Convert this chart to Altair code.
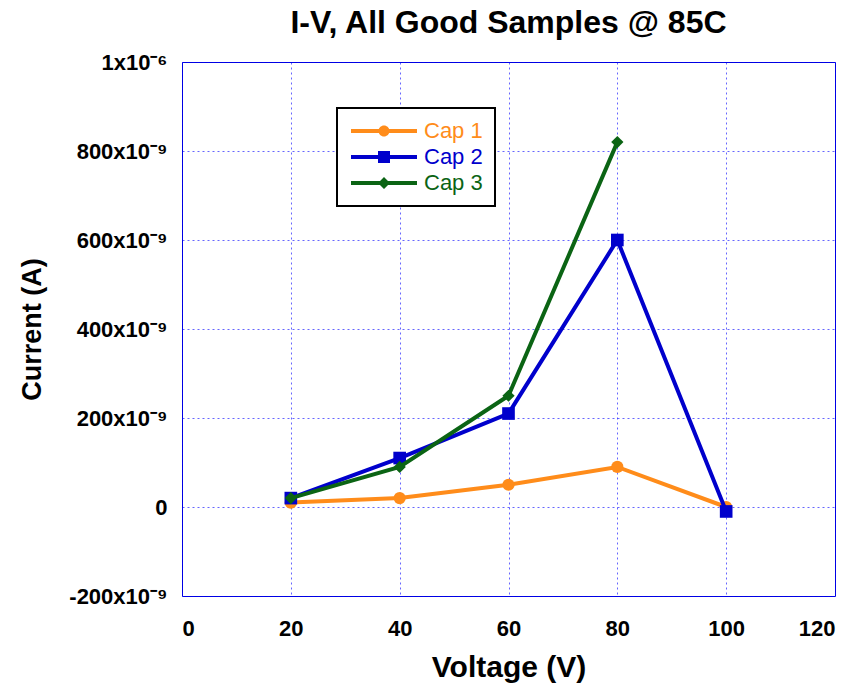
import altair as alt
import pandas as pd

# ---- data ----
voltage = [20, 40, 60, 80, 100]
cap1 = [10e-9, 20e-9, 50e-9, 90e-9, 0.0]
cap2 = [20e-9, 110e-9, 210e-9, 600e-9, -10e-9]
cap3 = [20e-9, 90e-9, 250e-9, 820e-9, None]
series = ["Cap 1", "Cap 2", "Cap 3"]

x_ticks = [0, 20, 40, 60, 80, 100, 120]
y_ticks = [-200e-9, 0.0, 200e-9, 400e-9, 600e-9, 800e-9, 1e-6]
y_labels = ["-200x10\u207b\u2079", "0", "200x10\u207b\u2079", "400x10\u207b\u2079",
            "600x10\u207b\u2079", "800x10\u207b\u2079", "1x10\u207b\u2076"]

# ---- styles ----
colors = ["#ff8c1a", "#0000cc", "#0b6414"]
shapes = ["circle", "square", "diamond"]
point_sizes = [150, 160, 150]
legend_paths = [
    "M-6.6,-0.4H6.6V0.4H-6.6Z M1.1,0A1.1,1.1 0 1,1 -1.1,0A1.1,1.1 0 1,1 1.1,0Z",
    "M-6.6,-0.4H6.6V0.4H-6.6Z M-1.2,-1.2H1.2V1.2H-1.2Z",
    "M-6.6,-0.4H6.6V0.4H-6.6Z M0,-1.2L1.2,0L0,1.2L-1.2,0Z",
]
FONT = "Liberation Sans"

rows = []
for s, vals in zip(series, [cap1, cap2, cap3]):
    for v, c in zip(voltage, vals):
        if c is not None:
            rows.append({"voltage": v, "current": c, "series": s})
df = pd.DataFrame(rows)

# y label expression built from the tick arrays
expr = "''"
for val, lab in reversed(list(zip(y_ticks, y_labels))):
    expr = f"abs(datum.value - ({val!r})) < 1e-12 ? '{lab}' : ({expr})"

label_color_expr = "'black'"
for s, c in reversed(list(zip(series, colors))):
    label_color_expr = f"datum.label == '{s}' ? '{c}' : ({label_color_expr})"

x_enc = alt.X("voltage:Q",
              scale=alt.Scale(domain=[0, 120], nice=False, zero=False),
              axis=alt.Axis(values=x_ticks, title="Voltage (V)", labelPadding=22,
                            titleY=56, format="d"))
y_enc = alt.Y("current:Q",
              scale=alt.Scale(domain=[-200e-9, 1e-6], nice=False, zero=False),
              axis=alt.Axis(values=y_ticks, labelExpr=expr, title="Current (A)",
                            labelPadding=15, titleX=-136, titleFontSize=27))
color_scale = alt.Scale(domain=series, range=colors)

base = alt.Chart(df)

legend_def = dict(
    title=None, orient="none", legendX=155, legendY=46,
    symbolSize=100, symbolOffset=24, labelOffset=29,
    labelFontSize=22, labelFont=FONT, labelColor={"expr": label_color_expr},
    rowPadding=4, padding=12, fillColor="white", strokeColor="black",
    symbolStrokeWidth=0, symbolOpacity=1,
)
# legend-only layer (first, so its explicit legend settings win the merge)
legend_layer = base.transform_filter("false").mark_point(filled=True).encode(
    x=x_enc, y=y_enc,
    color=alt.Color("series:N", scale=color_scale, legend=alt.Legend(**legend_def)),
    shape=alt.Shape("series:N", scale=alt.Scale(domain=series, range=legend_paths),
                    legend=alt.Legend(**legend_def)),
)
layers = [legend_layer]
for s, shp, sz in zip(series, shapes, point_sizes):
    sub = base.transform_filter(alt.datum.series == s)
    layers.append(sub.mark_line(strokeWidth=4).encode(
        x=x_enc, y=y_enc, color=alt.Color("series:N", scale=color_scale, legend=None)))
    layers.append(sub.mark_point(filled=True, shape=shp, size=sz, opacity=1).encode(
        x=x_enc, y=y_enc, color=alt.Color("series:N", scale=color_scale, legend=None)))

chart = alt.layer(*layers).properties(
    width=653, height=534,
    padding={"left": 182, "top": 62, "right": 25, "bottom": 98},
    autosize="none",
    title=alt.TitleParams("I-V, All Good Samples @ 85C", fontSize=32, font=FONT,
                          fontWeight="bold", color="black", offset=11,
                          anchor="middle", frame="group"),
).configure_view(
    stroke="#0000dd", strokeWidth=1
).configure_axis(
    domain=False, ticks=False, grid=True,
    gridColor="#0000ff", gridDash=[2, 3], gridOpacity=0.6, gridWidth=1,
    labelFont=FONT, labelFontWeight="bold", labelFontSize=22, labelColor="black",
    titleFont=FONT, titleFontWeight="bold", titleFontSize=30, titleColor="black",
).configure_legend(
    strokeWidth=2
)

chart.save("out.html", embed_options={"renderer": "svg", "actions": False})
